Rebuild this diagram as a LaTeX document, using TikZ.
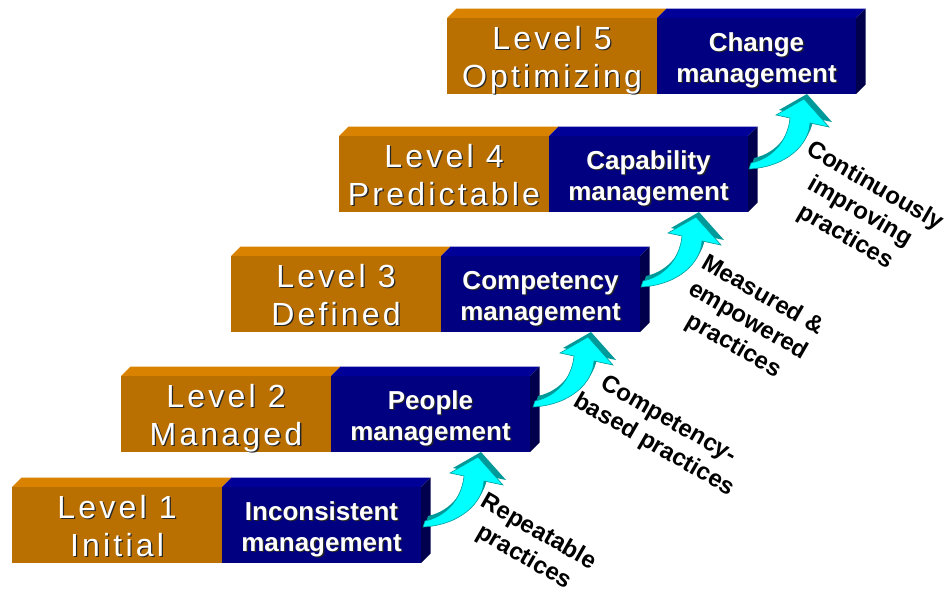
\documentclass[tikz,border=0pt]{standalone}
\usepackage{fontspec}
\setmainfont{Liberation Sans}
\newfontfamily\lvlfont[LetterSpace=10]{Liberation Sans}
\usetikzlibrary{calc}
\definecolor{orfront}{HTML}{BA7000}
\definecolor{ortop}{HTML}{D98200}
\definecolor{nvfront}{HTML}{000080}
\definecolor{nvtop}{HTML}{000099}
\definecolor{nvside}{HTML}{00004D}
\definecolor{arrcyan}{HTML}{00FFFF}
\definecolor{arrteal}{HTML}{009999}
\tikzset{
 orbox/.style={fill=orfront, minimum width=210pt, minimum height=76pt, inner sep=0pt, outer sep=0pt, anchor=north west},
 nvbox/.style={fill=nvfront, minimum width=199pt, minimum height=76pt, inner sep=0pt, outer sep=0pt, anchor=north west},
 lvltxt/.style={font=\lvlfont\fontsize{32}{38}\selectfont, text=white, anchor=base, inner sep=0pt},
 mgtxt/.style={font=\bfseries\fontsize{26}{31}\selectfont, text=white, anchor=base, inner sep=0pt},
 shad/.style={text=black!85},
 lbl/.style={font=\bfseries\fontsize{24}{29}\selectfont, align=center, rotate=-30, inner sep=0pt},
 uparrow/.pic={
  \fill[arrteal, shift={(3,-5)}] (0,0) -- (25,28) -- (6,24) .. controls (5,46) and (-18,68) .. (-55,70) -- (-53,64) .. controls (-30,59) and (-16,40) .. (-14,19) -- (-28,16) -- cycle;
  \fill[arrcyan, draw=arrteal, line width=0.6pt] (0,0) -- (25,28) -- (6,24) .. controls (5,46) and (-18,68) .. (-55,70) -- (-53,64) .. controls (-30,59) and (-16,40) .. (-14,19) -- (-28,16) -- cycle;
 }
}
\newcommand\drawlevel[7]{%
 \fill[ortop] (#2,#3) -- ++(9.5,-9.5) -- ++(210,0) -- ++(-9.5,9.5) -- cycle;
 \fill[nvtop] (#2+210,#3) -- ++(9.5,-9.5) -- ++(199,0) -- ++(-9.5,9.5) -- cycle;
 \fill[nvside] (#2+409,#3) -- ++(9.5,-9.5) -- ++(0,76) -- ++(-9.5,9.5) -- cycle;
 \node[orbox] (L#1) at (#2,#3) {};
 \node[nvbox] (R#1) at (L#1.north east) {};
 \node[lvltxt,shad] (L#1as) at ($(L#1.north)+(1.3,32.3)$) {#4};
 \node[lvltxt] (L#1a) at ($(L#1.north)+(0,31)$) {#4};
 \node[lvltxt,shad] (L#1bs) at ($(L#1.north)+(1.3,70.3)$) {#5};
 \node[lvltxt] (L#1b) at ($(L#1.north)+(0,69)$) {#5};
 \node[mgtxt,shad] (R#1as) at ($(R#1.north)+(1.3,34.3)$) {#6};
 \node[mgtxt] (R#1a) at ($(R#1.north)+(0,33)$) {#6};
 \node[mgtxt,shad] (R#1bs) at ($(R#1.north)+(1.3,65.3)$) {#7};
 \node[mgtxt] (R#1b) at ($(R#1.north)+(0,64)$) {#7};
}
\begin{document}
\begin{tikzpicture}[x=1pt, y=-1pt]
\fill[white] (0,0) rectangle (948,592);
\useasboundingbox (0,0) rectangle (948,592);
\drawlevel{1}{12}{487}{Level 1}{Initial}{Inconsistent}{management}
\drawlevel{2}{121}{376}{Level 2}{Managed}{People}{management}
\drawlevel{3}{231}{256}{Level 3}{Defined}{Competency}{management}
\drawlevel{4}{339}{136}{Level 4}{Predictable}{Capability}{management}
\drawlevel{5}{447}{18}{Level 5}{Optimizing}{Change}{management}
\coordinate (A1) at ($(R2.south east)+(-52,5)$);
\coordinate (A2) at ($(R3.south east)+(-52,5)$);
\coordinate (A3) at ($(R4.south east)+(-52,5)$);
\coordinate (A4) at ($(R5.south east)+(-52,5)$);
\pic (P1) at (A1) {uparrow};
\pic (P2) at (A2) {uparrow};
\pic (P3) at (A3) {uparrow};
\pic (P4) at (A4) {uparrow};
\node[lbl] (T1) at (531,545) {Repeatable\\practices};
\node[lbl] (T2) at (661,433) {Competency-\\based practices};
\node[lbl] (T3) at (748,321) {Measured \&\\empowered\\practices};
\node[lbl] (T4) at (860,212) {Continuously\\improving\\practices};
\end{tikzpicture}
\end{document}
